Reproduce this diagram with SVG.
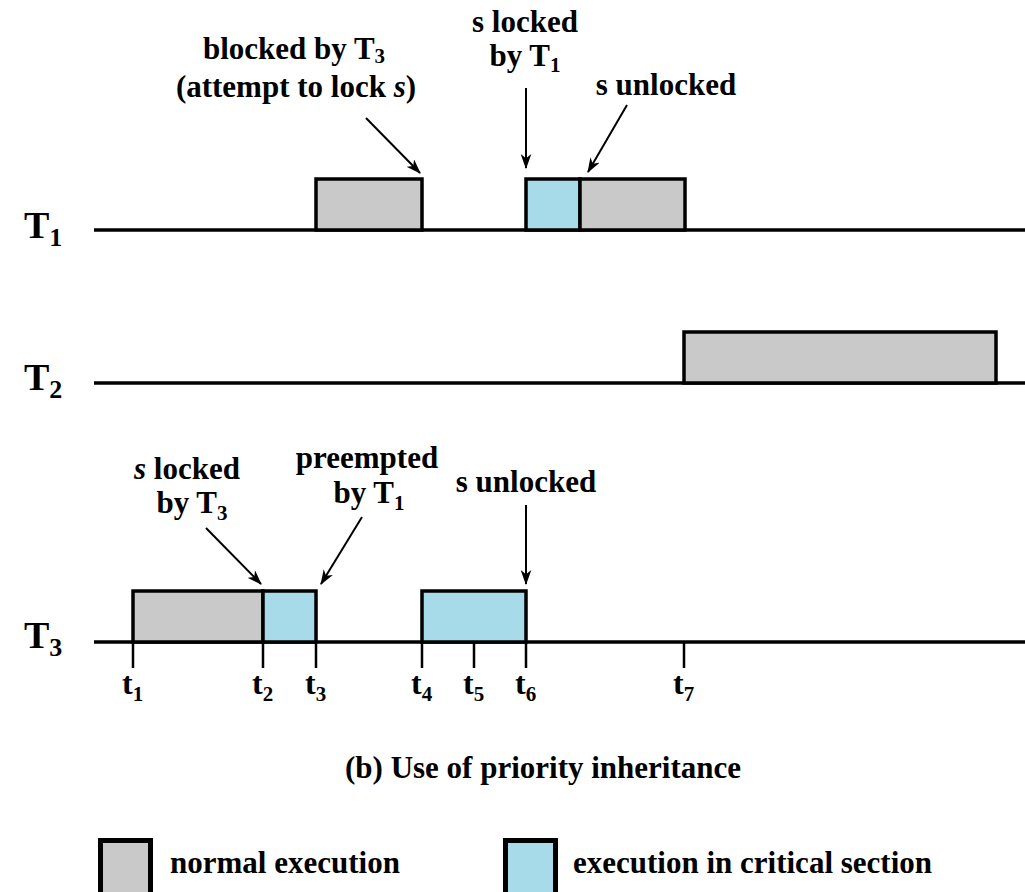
<svg xmlns="http://www.w3.org/2000/svg" width="1025" height="892" viewBox="0 0 1025 892">
  <defs>
    <marker id="arrow" viewBox="0 0 14 10" refX="13" refY="5" markerWidth="15" markerHeight="11" markerUnits="userSpaceOnUse" orient="auto">
      <path d="M0,0 L14,5 L0,10 L4,5 Z" fill="#000"/>
    </marker>
  </defs>
  <style>
    text { font-family: "Liberation Serif", "Times New Roman", serif; font-weight: bold; fill: #000; }
    .lbl { font-size: 31px; }
    .task { font-size: 38px; }
    .sub { font-size: 21px; }
    .tsub { font-size: 26px; }
    .tick { font-size: 32px; }
    .axis { stroke: #000; stroke-width: 3.5; fill: none; }
    .mark { stroke: #000; stroke-width: 2.5; }
    .normal { fill: #c9c9c9; stroke: #000; stroke-width: 3.5; }
    .crit { fill: #a8dbea; stroke: #000; stroke-width: 3.5; }
    .legend-normal { fill: #c9c9c9; stroke: #000; stroke-width: 5; }
    .legend-crit { fill: #a8dbea; stroke: #000; stroke-width: 5; }
    .conn { stroke: #000; stroke-width: 2; fill: none; marker-end: url(#arrow); }
  </style>
  <rect width="1025" height="892" fill="#fff"/>

  <!-- task T1 -->
  <g id="task-t1">
    <text class="task" x="24" y="238">T<tspan class="tsub" dy="8">1</tspan></text>
    <line class="axis" x1="94" y1="230" x2="1025" y2="230"/>
    <rect class="normal" x="316" y="179" width="106" height="51"/>
    <rect class="crit" x="526" y="179" width="54" height="51"/>
    <rect class="normal" x="580" y="179" width="105" height="51"/>
  </g>

  <!-- task T2 -->
  <g id="task-t2">
    <text class="task" x="24" y="390">T<tspan class="tsub" dy="8">2</tspan></text>
    <line class="axis" x1="94" y1="383" x2="1025" y2="383"/>
    <rect class="normal" x="684" y="332" width="312" height="51"/>
  </g>

  <!-- task T3 -->
  <g id="task-t3">
    <text class="task" x="24" y="648">T<tspan class="tsub" dy="8">3</tspan></text>
    <line class="axis" x1="94" y1="642" x2="1025" y2="642"/>
    <rect class="normal" x="133" y="591" width="130" height="51"/>
    <rect class="crit" x="263" y="591" width="53" height="51"/>
    <rect class="crit" x="422" y="591" width="104" height="51"/>
  </g>

  <!-- time marks -->
  <g id="time-axis">
    <line class="mark" x1="133" y1="642" x2="133" y2="668"/>
    <line class="mark" x1="263" y1="642" x2="263" y2="668"/>
    <line class="mark" x1="316" y1="642" x2="316" y2="668"/>
    <line class="mark" x1="422" y1="642" x2="422" y2="668"/>
    <line class="mark" x1="474" y1="642" x2="474" y2="668"/>
    <line class="mark" x1="526" y1="642" x2="526" y2="668"/>
    <line class="mark" x1="684" y1="642" x2="684" y2="668"/>
    <text class="tick" x="122" y="694">t<tspan class="sub" dy="7">1</tspan></text>
    <text class="tick" x="252" y="694">t<tspan class="sub" dy="7">2</tspan></text>
    <text class="tick" x="305" y="694">t<tspan class="sub" dy="7">3</tspan></text>
    <text class="tick" x="411" y="694">t<tspan class="sub" dy="7">4</tspan></text>
    <text class="tick" x="463" y="694">t<tspan class="sub" dy="7">5</tspan></text>
    <text class="tick" x="515" y="694">t<tspan class="sub" dy="7">6</tspan></text>
    <text class="tick" x="673" y="694">t<tspan class="sub" dy="7">7</tspan></text>
  </g>

  <!-- event annotations -->
  <g id="note-blocked">
    <text class="lbl" x="294" y="59" text-anchor="middle">blocked by T<tspan class="sub" dy="4">3</tspan></text>
    <text class="lbl" x="296" y="97" text-anchor="middle">(attempt to lock <tspan font-style="italic">s</tspan>)</text>
  </g>
  <g id="note-t1-lock">
    <text class="lbl" x="525" y="32" text-anchor="middle">s locked</text>
    <text class="lbl" x="525" y="66" text-anchor="middle">by T<tspan class="sub" dy="6">1</tspan></text>
  </g>
  <g id="note-t1-unlock">
    <text class="lbl" x="666" y="95" text-anchor="middle">s unlocked</text>
  </g>
  <g id="note-t3-lock">
    <text class="lbl" x="187" y="479" text-anchor="middle"><tspan font-style="italic">s</tspan> locked</text>
    <text class="lbl" x="192" y="513" text-anchor="middle">by T<tspan class="sub" dy="7">3</tspan></text>
  </g>
  <g id="note-preempt">
    <text class="lbl" x="367" y="468" text-anchor="middle">preempted</text>
    <text class="lbl" x="369" y="503" text-anchor="middle">by T<tspan class="sub" dy="7">1</tspan></text>
  </g>
  <g id="note-t3-unlock">
    <text class="lbl" x="526" y="492" text-anchor="middle">s unlocked</text>
  </g>

  <!-- pointers from notes to events -->
  <g id="connectors">
    <line class="conn" x1="366" y1="118" x2="420" y2="173"/>
    <line class="conn" x1="526" y1="88" x2="526" y2="168"/>
    <line class="conn" x1="627" y1="105" x2="588" y2="172"/>
    <line class="conn" x1="206" y1="528" x2="261" y2="584"/>
    <line class="conn" x1="362" y1="517" x2="321" y2="584"/>
    <line class="conn" x1="526" y1="505" x2="526" y2="584"/>
  </g>

  <!-- caption -->
  <g id="caption">
    <text class="lbl" x="345" y="778">(b) Use of priority inheritance</text>
  </g>

  <!-- key -->
  <g id="legend-normal">
    <rect class="legend-normal" x="100.5" y="840.5" width="50" height="60"/>
    <text class="lbl" x="170" y="873">normal execution</text>
  </g>
  <g id="legend-critical">
    <rect class="legend-crit" x="505.5" y="840.5" width="50" height="60"/>
    <text class="lbl" x="573" y="873">execution in critical section</text>
  </g>
</svg>
